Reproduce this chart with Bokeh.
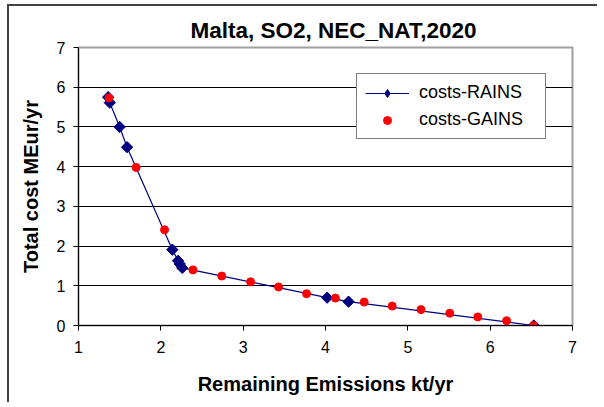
import math
from bokeh.plotting import figure
from bokeh.models import Range1d, FixedTicker, Legend, LegendItem, Title
from bokeh.embed import file_html
from bokeh.resources import INLINE

# Data
rains_x = [1.36, 1.38, 1.50, 1.59, 2.14, 2.21, 2.23, 2.26, 4.02, 4.28, 6.53]
rains_y = [5.75, 5.61, 5.00, 4.49, 1.91, 1.63, 1.55, 1.45, 0.70, 0.60, 0.00]
gains_x = [1.37, 1.70, 2.045, 2.39, 2.74, 3.09, 3.43, 3.77, 4.12, 4.47, 4.81, 5.16, 5.51, 5.85, 6.20, 6.53]
gains_y = [5.73, 3.98, 2.41, 1.40, 1.245, 1.10, 0.97, 0.80, 0.69, 0.59, 0.49, 0.40, 0.31, 0.215, 0.12, 0.00]
x_ticks = [1, 2, 3, 4, 5, 6, 7]
y_ticks = [0, 1, 2, 3, 4, 5, 6, 7]
title_text = "Malta, SO2, NEC_NAT,2020"
x_label = "Remaining Emissions kt/yr"
y_label = "Total cost MEur/yr"

FONT = "Liberation Sans"

p = figure(width=590, height=398, output_backend="svg", toolbar_location=None,
           x_range=Range1d(1, 7), y_range=Range1d(0, 7),
           min_border_left=69, min_border_right=27, min_border_top=41, min_border_bottom=79,
           title=None)

p.add_layout(Title(text=title_text, align="left", text_font=FONT,
                   text_font_size="22.5px", text_font_style="bold", text_color="black",
                   text_line_height=0.6, offset=112), "above")

p.background_fill_color = "white"
p.border_fill_color = "white"
p.outline_line_color = "#a0a0a0"
p.outline_line_width = 2

# Grid
p.xgrid.visible = False
p.ygrid.ticker = FixedTicker(ticks=y_ticks)
p.ygrid.grid_line_color = "black"
p.ygrid.grid_line_width = 1

# Axes
for ax in (p.xaxis[0], p.yaxis[0]):
    ax.axis_line_color = "black"
    ax.major_tick_line_color = "black"
    ax.minor_tick_line_color = None
    ax.major_tick_in = 0
    ax.major_tick_out = 5
    ax.major_label_text_font = FONT
    ax.major_label_text_font_size = "16px"
    ax.major_label_text_color = "black"
    ax.axis_label_text_font = FONT
    ax.axis_label_text_font_size = "20px"
    ax.axis_label_text_font_style = "bold"
    ax.axis_label_text_color = "black"

p.xaxis.ticker = FixedTicker(ticks=x_ticks)
p.yaxis.ticker = FixedTicker(ticks=y_ticks)
p.xaxis.axis_label = x_label
p.yaxis.axis_label = y_label
p.xaxis.major_label_standoff = 10
p.xaxis.axis_label_standoff = 17
p.yaxis.major_label_standoff = 8
p.yaxis.axis_label_standoff = 12

line = p.line(rains_x, rains_y, line_color="#000080", line_width=1.2)
diam = p.scatter(rains_x, rains_y, marker="square", size=8, angle=math.pi / 4,
                 fill_color="#000080", line_color="#000080")
dots = p.scatter(gains_x, gains_y, marker="circle", size=8, fill_color="#ff0000", line_color="#ff0000")
# legend-only diamond key, placed outside the visible range
key_diam = p.scatter([-10], [-10], marker="diamond", size=14,
                     fill_color="#000080", line_color="#000080")

legend = Legend(items=[LegendItem(label="costs-RAINS", renderers=[line, key_diam]),
                       LegendItem(label="costs-GAINS", renderers=[dots])],
                location="top_right")
legend.border_line_color = "black"
legend.border_line_width = 1
legend.label_text_font = FONT
legend.label_text_font_size = "18px"
legend.label_text_color = "black"
legend.glyph_width = 44
legend.label_standoff = 10
legend.label_width = 118
legend.padding = 8
legend.spacing = 6
legend.margin = 26
legend.background_fill_alpha = 1
p.add_layout(legend, "center")

p.styles = {"margin-left": "7px", "margin-top": "4px",
            "border-left": "2px solid #404040", "border-top": "2px solid #404040"}

open("out.html", "w").write(file_html(p, INLINE))
